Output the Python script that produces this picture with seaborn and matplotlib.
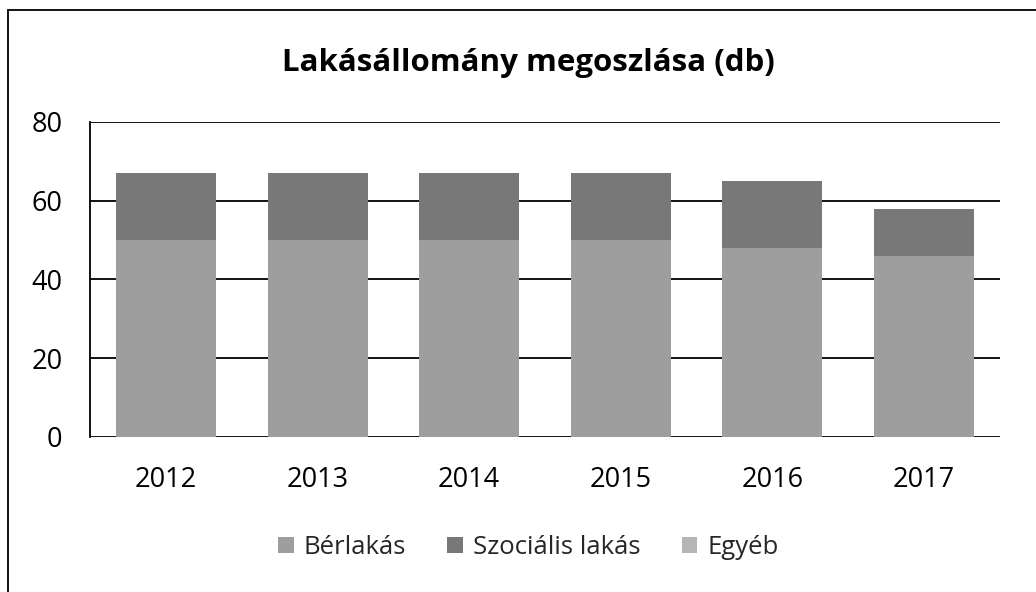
import numpy as np
import pandas as pd
import matplotlib
matplotlib.use("Agg")
import matplotlib.pyplot as plt
import seaborn as sns
from matplotlib.patches import Rectangle, Patch

years = ["2012", "2013", "2014", "2015", "2016", "2017"]
berlakas = [50, 50, 50, 50, 48, 46]
szocialis = [17, 17, 17, 17, 17, 12]
egyeb = [0, 0, 0, 0, 0, 0]
series_names = ["Bérlakás", "Szociális lakás", "Egyéb"]
colors = ["#9e9e9e", "#787878", "#b5b5b5"]

sns.set_theme(style="white")
plt.rcParams['font.family'] = ['Open Sans', 'DejaVu Sans']

fig = plt.figure(figsize=(10.36, 5.92), dpi=100)
ax = fig.add_axes([0.087, 0.262, 0.878, 0.532])

series = [berlakas, szocialis, egyeb]
cum = np.cumsum(np.array(series, dtype=float), axis=0)
# draw from top of stack to bottom so lower segments overlay
for i in range(len(series) - 1, -1, -1):
    df = pd.DataFrame({"year": years, "value": cum[i]})
    sns.barplot(data=df, x="year", y="value", color=colors[i], width=0.66,
                saturation=1, ax=ax, zorder=3, linewidth=0, edgecolor="none")

ax.set_ylim(0, 80)
ax.set_yticks([0, 20, 40, 60, 80])
ax.yaxis.grid(True, color="black", linewidth=1.3, zorder=0)
ax.set_axisbelow(True)
for s in ["top", "right", "bottom"]:
    ax.spines[s].set_visible(False)
ax.spines["left"].set_color("black")
ax.spines["left"].set_linewidth(1.3)
ax.set_xlabel("")
ax.set_ylabel("")
ax.tick_params(axis="both", labelsize=19.5, colors="black", length=0)
ax.tick_params(axis="x", pad=21)
ax.tick_params(axis="y", pad=20)

fig.text(0.51, 0.893, "Lakásállomány megoszlása (db)", ha="center", va="center",
         fontsize=22.5, fontweight="bold", color="black")

handles = [Patch(facecolor=c, edgecolor="none", label=n) for c, n in zip(colors, series_names)]
fig.legend(handles=handles, loc="center", bbox_to_anchor=(0.51, 0.075), ncol=3,
           frameon=False, fontsize=18.5, handlelength=0.6, handleheight=0.6,
           columnspacing=1.6, handletextpad=0.4)

fig.patches.append(Rectangle((0.008, -0.05), 1.1, 1.033, transform=fig.transFigure,
                             fill=False, edgecolor="black", linewidth=1.3))

fig.savefig("out.png", dpi=100, facecolor="white")
